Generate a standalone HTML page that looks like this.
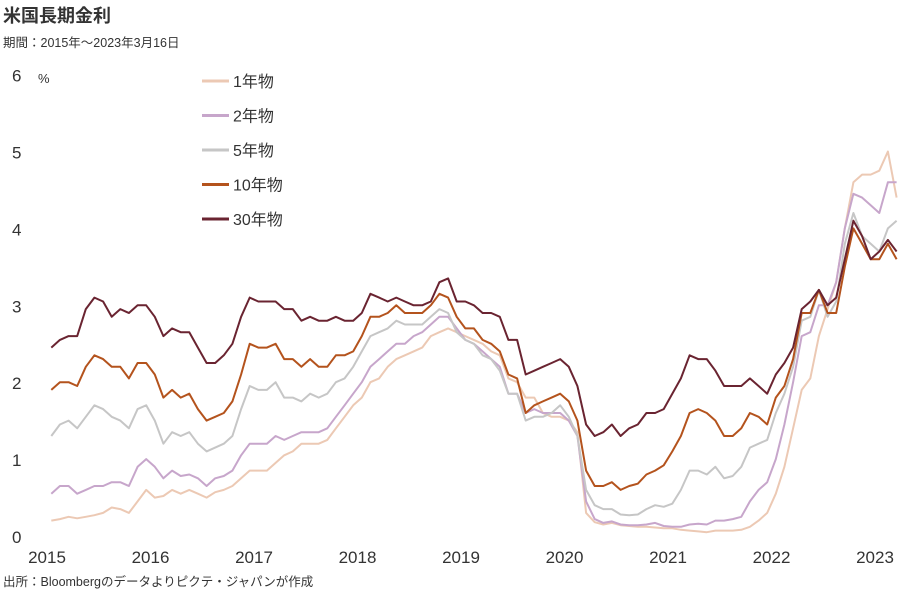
<!DOCTYPE html>
<html><head><meta charset="utf-8"><style>
body{margin:0;background:#fff;width:909px;height:600px;overflow:hidden;font-family:"Liberation Sans","Noto Sans CJK JP",sans-serif;}
</style></head><body>
<svg id="c" width="909" height="600" style="position:absolute;left:0;top:0">
<text x="3" y="22" font-size="18" font-weight="bold" fill="#333">米国長期金利</text>
<text x="3" y="47" font-size="12.5" fill="#333">期間：2015年～2023年3月16日</text>
<text x="38" y="83" font-size="13" fill="#333">%</text>
<text x="3" y="586" font-size="12.5" fill="#333">出所：Bloombergのデータよりピクテ・ジャパンが作成</text>
<g id="yt"></g><g id="xt"></g><g id="series"></g><g id="legend"></g>
</svg>
<script>
const years=["2015","2016","2017","2018","2019","2020","2021","2022","2023"];
const yTicks=[0,1,2,3,4,5,6];
const seriesNames=["1年物","2年物","5年物","10年物","30年物"];
const seriesColors=["#ecc9b4","#c7a6cb","#c6c6c6","#b4531d","#6a2431"];
const y1=[0.2,0.22,0.25,0.23,0.25,0.27,0.3,0.37,0.35,0.3,0.45,0.6,0.5,0.52,0.6,0.55,0.6,0.55,0.5,0.57,0.6,0.65,0.75,0.85,0.85,0.85,0.95,1.05,1.1,1.2,1.2,1.2,1.25,1.4,1.55,1.7,1.8,2.0,2.05,2.2,2.3,2.35,2.4,2.45,2.6,2.65,2.7,2.65,2.6,2.55,2.5,2.4,2.35,2.05,2.0,1.8,1.8,1.6,1.55,1.55,1.5,1.35,0.3,0.18,0.15,0.17,0.14,0.13,0.12,0.12,0.11,0.1,0.1,0.08,0.07,0.06,0.05,0.07,0.07,0.07,0.08,0.12,0.2,0.3,0.55,0.9,1.4,1.9,2.05,2.6,2.95,3.3,4.0,4.6,4.7,4.7,4.75,5.0,4.4];
const y2=[0.55,0.65,0.65,0.55,0.6,0.65,0.65,0.7,0.7,0.65,0.9,1.0,0.9,0.75,0.85,0.78,0.8,0.75,0.65,0.75,0.78,0.85,1.05,1.2,1.2,1.2,1.3,1.25,1.3,1.35,1.35,1.35,1.4,1.55,1.7,1.85,2.0,2.2,2.3,2.4,2.5,2.5,2.6,2.65,2.75,2.85,2.85,2.7,2.55,2.5,2.4,2.3,2.2,1.85,1.85,1.6,1.65,1.6,1.6,1.6,1.5,1.3,0.45,0.22,0.17,0.19,0.15,0.14,0.14,0.15,0.17,0.13,0.12,0.12,0.15,0.16,0.15,0.2,0.2,0.22,0.25,0.45,0.6,0.7,1.0,1.45,2.0,2.6,2.65,3.0,3.0,3.3,4.0,4.45,4.4,4.3,4.2,4.6,4.6];
const y5=[1.3,1.45,1.5,1.4,1.55,1.7,1.65,1.55,1.5,1.4,1.65,1.7,1.5,1.2,1.35,1.3,1.35,1.2,1.1,1.15,1.2,1.3,1.65,1.95,1.9,1.9,2.0,1.8,1.8,1.75,1.85,1.8,1.85,2.0,2.05,2.2,2.4,2.6,2.65,2.7,2.8,2.75,2.75,2.75,2.85,2.95,2.9,2.65,2.55,2.5,2.35,2.3,2.15,1.85,1.85,1.5,1.55,1.55,1.6,1.7,1.55,1.3,0.6,0.4,0.35,0.35,0.28,0.27,0.28,0.35,0.4,0.38,0.42,0.6,0.85,0.85,0.8,0.9,0.75,0.78,0.9,1.15,1.2,1.25,1.6,1.85,2.2,2.8,2.85,3.2,2.85,3.05,3.8,4.2,3.9,3.8,3.7,4.0,4.1];
const y10=[1.9,2.0,2.0,1.95,2.2,2.35,2.3,2.2,2.2,2.05,2.25,2.25,2.1,1.8,1.9,1.8,1.85,1.65,1.5,1.55,1.6,1.75,2.1,2.5,2.45,2.45,2.5,2.3,2.3,2.2,2.3,2.2,2.2,2.35,2.35,2.4,2.6,2.85,2.85,2.9,3.0,2.9,2.9,2.9,3.0,3.15,3.1,2.85,2.7,2.7,2.55,2.5,2.4,2.1,2.05,1.6,1.7,1.75,1.8,1.85,1.75,1.5,0.85,0.65,0.65,0.7,0.6,0.65,0.68,0.8,0.85,0.92,1.1,1.3,1.6,1.65,1.6,1.5,1.3,1.3,1.4,1.6,1.55,1.45,1.8,1.95,2.3,2.9,2.9,3.2,2.9,2.9,3.5,4.0,3.8,3.6,3.6,3.8,3.6];
const y30=[2.45,2.55,2.6,2.6,2.95,3.1,3.05,2.85,2.95,2.9,3.0,3.0,2.85,2.6,2.7,2.65,2.65,2.45,2.25,2.25,2.35,2.5,2.85,3.1,3.05,3.05,3.05,2.95,2.95,2.8,2.85,2.8,2.8,2.85,2.8,2.8,2.9,3.15,3.1,3.05,3.1,3.05,3.0,3.0,3.05,3.3,3.35,3.05,3.05,3.0,2.9,2.9,2.85,2.55,2.55,2.1,2.15,2.2,2.25,2.3,2.2,1.95,1.45,1.3,1.35,1.45,1.3,1.4,1.45,1.6,1.6,1.65,1.85,2.05,2.35,2.3,2.3,2.15,1.95,1.95,1.95,2.05,1.95,1.85,2.1,2.25,2.45,2.95,3.05,3.2,3.0,3.1,3.6,4.1,3.9,3.6,3.7,3.85,3.7];
const allSeries=[y1,y2,y5,y10,y30];
const X0=47,XPY=103.5,Y0=536,YPU=76.9;
const xs=t=>X0+t*XPY;
const ys=v=>Y0-v*YPU;
const NS="http://www.w3.org/2000/svg";
function mk(tag,attrs,parent){const e=document.createElementNS(NS,tag);for(const k in attrs)e.setAttribute(k,attrs[k]);parent.appendChild(e);return e;}
const yt=document.getElementById('yt');
yTicks.forEach(v=>{const t=mk('text',{x:12,y:ys(v)+7,'font-size':17,fill:'#333','text-anchor':'start'},yt);t.textContent=v;

});
const xt=document.getElementById('xt');
years.forEach((y,i)=>{const t=mk('text',{x:xs(i),y:563,'font-size':17,fill:'#333','text-anchor':'middle'},xt);t.textContent=y;

});
const sg=document.getElementById('series');
allSeries.forEach((arr,si)=>{const pts=arr.map((v,i)=>xs((i+0.5)/12).toFixed(1)+','+ys(v).toFixed(1)).join(' ');
const p=mk('polyline',{points:pts,fill:'none',stroke:seriesColors[si],'stroke-width':2,'stroke-linejoin':'round'},sg);

});
const lg=document.getElementById('legend');
seriesNames.forEach((n,i)=>{const yy=81+i*34.5;
const g=mk('g',{},lg);


mk('line',{x1:202,x2:229,y1:yy,y2:yy,stroke:seriesColors[i],'stroke-width':3},g);
const t=mk('text',{x:233,y:yy+6,'font-size':16,fill:'#333'},g);t.textContent=n;});
</script>
</body></html>
